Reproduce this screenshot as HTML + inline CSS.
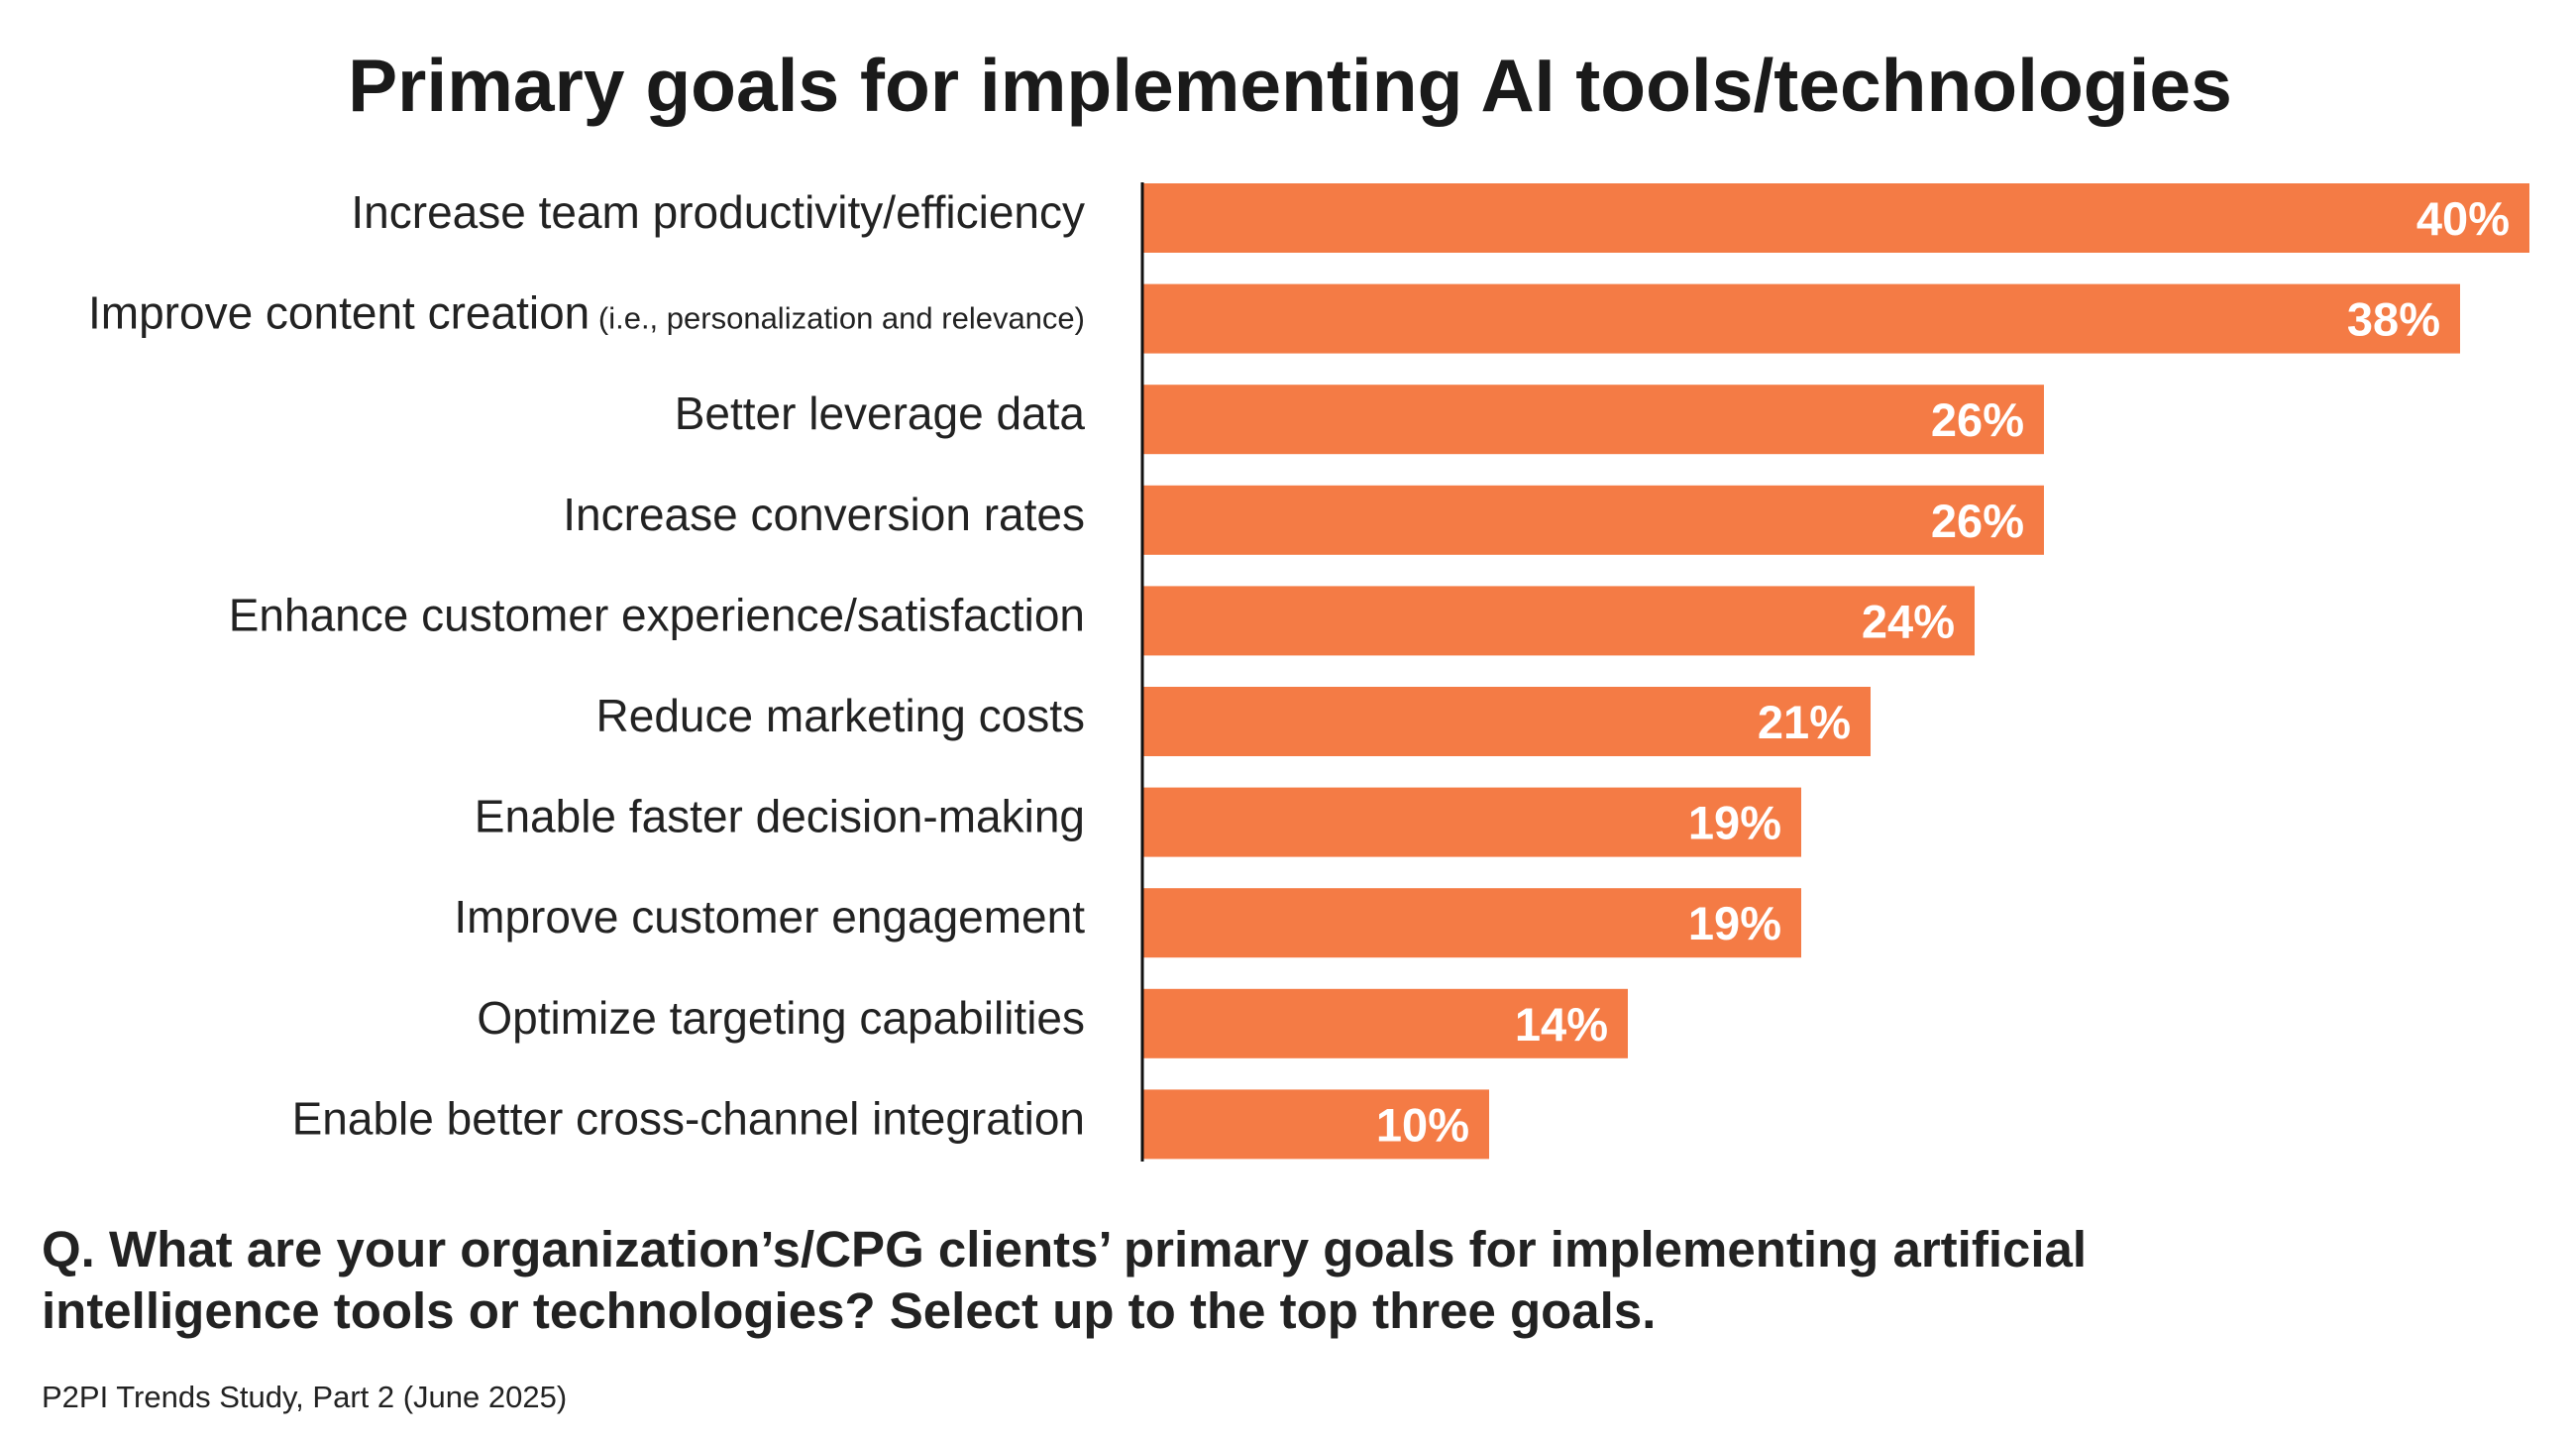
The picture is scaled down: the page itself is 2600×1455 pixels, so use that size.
<!DOCTYPE html>
<html><head><meta charset="utf-8"><style>
html,body{margin:0;padding:0;background:#fff;}
svg{display:block;font-family:"Liberation Sans",sans-serif;}
</style></head><body>
<svg id="chart" width="2600" height="1455" viewBox="0 0 2600 1455" xmlns="http://www.w3.org/2000/svg">
<text x="1302" y="112" text-anchor="middle" font-size="75" font-weight="bold" fill="#1a1a1a">Primary goals for implementing AI tools/technologies</text>
<g id="bars"></g>
<g id="labels"></g>
<line x1="1153" y1="184" x2="1153" y2="1172" stroke="#111" stroke-width="3"/>
<text x="42" y="1278" font-size="51" font-weight="bold" fill="#222">Q. What are your organization’s/CPG clients’ primary goals for implementing artificial</text>
<text x="42" y="1340" font-size="51" font-weight="bold" fill="#222">intelligence tools or technologies? Select up to the top three goals.</text>
<text x="42" y="1420" font-size="31" fill="#222">P2PI Trends Study, Part 2 (June 2025)</text>
</svg>
<script>
const categories = ["Increase team productivity/efficiency","Improve content creation","Better leverage data","Increase conversion rates","Enhance customer experience/satisfaction","Reduce marketing costs","Enable faster decision-making","Improve customer engagement","Optimize targeting capabilities","Enable better cross-channel integration"];
const subLabels = ["","(i.e., personalization and relevance)","","","","","","","",""];
const values = [40,38,26,26,24,21,19,19,14,10];
const valueLabels = ["40%","38%","26%","26%","24%","21%","19%","19%","14%","10%"];

const NS="http://www.w3.org/2000/svg";
const x0=1153, pxPer=35.0, top0=185, pitch=101.6, bh=70;
const xScale=v=>x0+v*pxPer;
const yScale=i=>top0+i*pitch;
const bars=document.getElementById('bars'), labels=document.getElementById('labels');
categories.forEach((c,i)=>{
  const y=yScale(i);
  const r=document.createElementNS(NS,'rect');
  
  
  r.setAttribute('x',x0);r.setAttribute('y',y);
  r.setAttribute('width',xScale(values[i])-x0);r.setAttribute('height',bh);
  r.setAttribute('fill','#f47b45');
  bars.appendChild(r);
  const vt=document.createElementNS(NS,'text');
  
  
  vt.setAttribute('x',xScale(values[i])-20);vt.setAttribute('y',y+bh/2+17);
  vt.setAttribute('text-anchor','end');vt.setAttribute('font-size','47');
  vt.setAttribute('font-weight','bold');vt.setAttribute('fill','#fff');
  vt.textContent=valueLabels[i];
  bars.appendChild(vt);
  const t=document.createElementNS(NS,'text');
  
  
  t.setAttribute('x',1095);t.setAttribute('y',y+bh/2+10);
  t.setAttribute('text-anchor','end');t.setAttribute('font-size','46');t.setAttribute('fill','#222');
  t.textContent=c;
  if(subLabels[i]){
    const s=document.createElementNS(NS,'tspan');
    s.setAttribute('font-size','31');
    s.textContent=' '+subLabels[i];
    t.appendChild(s);
  }
  labels.appendChild(t);
});
</script>
</body></html>
